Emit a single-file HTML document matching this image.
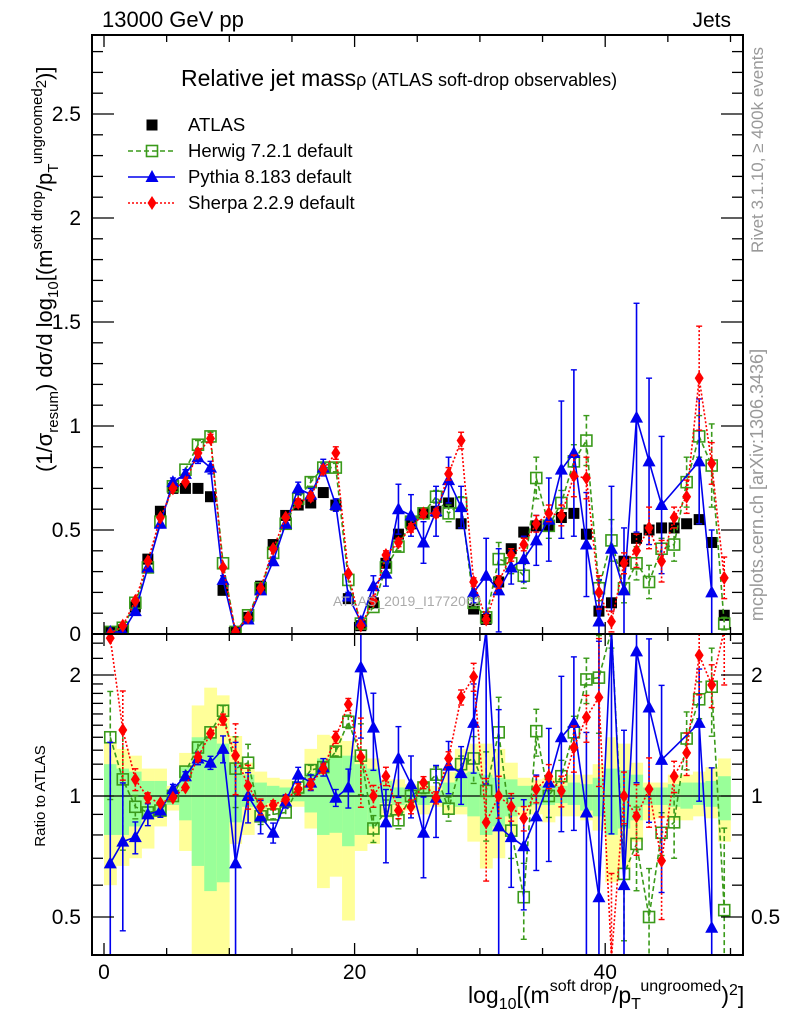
<!DOCTYPE html>
<html><head><meta charset="utf-8"><style>
html,body{margin:0;padding:0;background:#fff;width:786px;height:1024px;overflow:hidden;}
svg{display:block;font-family:"Liberation Sans",sans-serif;}
</style></head><body>
<svg id="chart" xmlns="http://www.w3.org/2000/svg" width="786" height="1024" viewBox="0 0 786 1024" overflow="hidden">
<defs>
<clipPath id="clipMain"><rect x="92" y="35" width="651" height="599"/></clipPath>
<clipPath id="clipRatio"><rect x="92" y="634" width="651" height="321"/></clipPath>
</defs>
<g id="bands" clip-path="url(#clipRatio)"></g>
<g id="ratioSeries" clip-path="url(#clipRatio)"></g>
<g id="mainSeries" clip-path="url(#clipMain)"></g>
<g id="axes"></g>
<text x="102" y="27" font-size="22">13000 GeV pp</text>
<text x="731" y="27" font-size="21" text-anchor="end">Jets</text>
<text x="181" y="86" font-size="23">Relative jet mass<tspan font-size="18">ρ (ATLAS soft-drop observables)</tspan></text>
<text x="333" y="606" font-size="14" fill="#aaa">ATLAS_2019_I1772062</text>
<text transform="translate(763,150) rotate(-90)" font-size="17" fill="#999" text-anchor="middle">Rivet 3.1.10, ≥ 400k events</text>
<text transform="translate(763,485) rotate(-90)" font-size="18" fill="#999" text-anchor="middle">mcplots.cern.ch [arXiv:1306.3436]</text>
<text transform="translate(52,472) rotate(-90)" font-size="22">(1/σ<tspan font-size="15" dy="6">resum</tspan><tspan dy="-6">) dσ/d log</tspan><tspan font-size="15" dy="6">10</tspan><tspan dy="-6">[(m</tspan><tspan font-size="15" dy="-10">soft drop</tspan><tspan dy="10">/p</tspan><tspan font-size="15" dy="6">T</tspan><tspan font-size="15" dy="-16">ungroomed</tspan><tspan font-size="15" dy="4">2</tspan><tspan dy="6">)]</tspan></text>
<text transform="translate(45,796) rotate(-90)" font-size="15" text-anchor="middle">Ratio to ATLAS</text>
<text x="468" y="1003" font-size="23">log<tspan font-size="16" dy="6">10</tspan><tspan dy="-6">[(m</tspan><tspan font-size="16" dy="-12">soft drop</tspan><tspan dy="12">/p</tspan><tspan font-size="16" dy="6">T</tspan><tspan font-size="16" dy="-18">ungroomed</tspan><tspan dy="12">)</tspan><tspan font-size="16" dy="-8">2</tspan><tspan dy="8">]</tspan></text>
<g id="legend"></g>
</svg>
<script>
const bins = Array.from({length:50},(_,i)=>i+0.5);
const atlas = [0.01,0.02,0.13,0.36,0.59,0.70,0.70,0.70,0.66,0.21,0.01,0.08,0.23,0.43,0.57,0.62,0.63,0.68,0.62,0.17,0.04,0.15,0.34,0.48,0.53,0.58,0.59,0.63,0.53,0.12,0.07,0.25,0.41,0.49,0.52,0.52,0.56,0.58,0.48,0.11,0.15,0.35,0.46,0.50,0.51,0.51,0.53,0.55,0.44,0.09];
const herwig = [0.01,0.03,0.15,0.32,0.54,0.71,0.79,0.91,0.95,0.34,0.01,0.09,0.22,0.39,0.53,0.65,0.73,0.80,0.80,0.26,0.05,0.13,0.32,0.42,0.54,0.58,0.66,0.58,0.63,0.15,0.08,0.36,0.34,0.28,0.75,0.52,0.63,0.83,0.93,0.22,0.45,0.22,0.34,0.25,0.41,0.43,0.73,0.95,0.81,0.05];
const pythia = [0.01,0.01,0.11,0.32,0.53,0.73,0.77,0.85,0.80,0.26,0.01,0.07,0.21,0.35,0.53,0.70,0.67,0.80,0.62,0.18,0.06,0.23,0.29,0.60,0.57,0.44,0.59,0.74,0.61,0.20,0.28,0.21,0.32,0.36,0.45,0.55,0.79,0.87,0.43,0.06,0.41,0.21,1.04,0.83,0.62,null,null,0.83,0.20,null];
const sherpa = [0.00,0.04,0.16,0.35,0.56,0.70,0.73,0.87,0.94,0.32,0.01,0.08,0.22,0.41,0.56,0.63,0.66,0.79,0.87,0.29,0.04,0.16,0.38,0.44,0.51,0.58,0.58,0.77,0.93,0.25,0.07,0.25,0.38,0.43,0.53,0.58,0.57,0.76,0.75,0.20,0.06,0.34,0.40,0.51,0.35,0.56,0.66,1.23,0.82,0.27];
const herwigErr = [0.003,0.01,0.01,0.01,0.01,0.01,0.01,0.02,0.02,0.01,0.002,0.01,0.01,0.01,0.01,0.02,0.02,0.02,0.02,0.01,0.01,0.01,0.02,0.02,0.02,0.02,0.03,0.04,0.03,0.02,0.02,0.08,0.05,0.06,0.10,0.06,0.06,0.08,0.12,0.06,0.10,0.07,0.08,0.08,0.05,0.08,0.12,0.10,0.20,0.03];
const pythiaErr = [0.01,0.004,0.01,0.02,0.02,0.02,0.02,0.03,0.03,0.02,0.01,0.01,0.02,0.02,0.02,0.03,0.03,0.04,0.03,0.02,0.02,0.05,0.06,0.12,0.10,0.10,0.12,0.11,0.10,0.05,0.18,0.20,0.08,0.11,0.12,0.20,0.33,0.40,0.25,0.20,0.30,0.30,0.55,0.40,0.33,null,null,0.30,0.30,null];
const sherpaErr = [0.002,0.01,0.01,0.01,0.01,0.01,0.01,0.02,0.02,0.01,0.002,0.01,0.01,0.01,0.01,0.02,0.02,0.02,0.03,0.01,0.01,0.01,0.02,0.02,0.02,0.02,0.02,0.03,0.04,0.02,0.02,0.03,0.03,0.03,0.04,0.04,0.05,0.10,0.10,0.08,0.05,0.05,0.08,0.10,0.10,0.05,0.08,0.25,0.10,0.10];
const herwigRatio = [1.40,1.10,0.94,0.91,0.92,1.00,1.15,1.32,1.44,1.63,1.17,1.21,0.89,0.90,0.91,1.05,1.16,1.18,1.29,1.53,1.26,0.83,0.92,0.87,1.00,1.05,1.13,0.93,1.20,1.24,1.03,1.44,0.82,0.56,1.45,1.00,1.12,1.44,1.95,1.97,3.00,0.64,0.76,0.50,0.81,0.86,1.39,1.74,1.87,0.52];
const pythiaRatio = [0.68,0.77,0.79,0.90,0.92,1.04,1.12,1.24,1.21,1.31,0.68,1.00,0.89,0.81,0.97,1.13,1.08,1.18,0.99,1.05,2.09,1.48,0.86,1.24,1.07,0.81,0.99,1.19,1.14,1.52,3.00,0.84,0.79,0.75,0.89,1.08,1.40,1.52,0.91,0.56,3.00,0.60,2.29,1.66,1.23,null,null,1.52,0.47,null];
const sherpaRatio = [2.47,1.46,1.10,0.99,0.96,0.99,1.05,1.25,1.43,1.55,1.26,1.06,0.94,0.95,0.98,1.04,1.07,1.17,1.40,1.69,1.25,1.00,1.12,0.92,0.94,1.08,0.99,1.24,1.76,1.98,0.86,1.00,0.94,0.88,1.04,1.12,1.03,1.32,1.57,1.76,0.35,1.00,0.89,1.04,0.69,1.12,1.28,2.24,1.89,3.00];
const bandYellowHi = [1.35,1.31,1.26,1.17,1.17,1.06,1.28,1.68,1.86,1.78,1.41,1.21,1.15,1.11,1.10,1.06,1.31,1.42,1.41,1.37,1.27,1.24,1.10,1.10,1.07,1.09,1.06,1.15,1.31,1.35,1.35,1.31,1.21,1.11,1.10,1.11,1.11,1.13,1.13,1.20,1.40,1.35,1.21,1.08,1.08,1.13,1.13,1.15,1.18,1.24];
const bandYellowLo = [0.60,0.67,0.70,0.74,0.84,0.92,0.73,0.35,0.35,0.35,0.76,0.80,0.89,0.92,0.94,0.94,0.83,0.59,0.63,0.49,0.73,0.76,0.88,0.89,0.92,0.90,0.94,0.90,0.90,0.77,0.66,0.70,0.80,0.89,0.90,0.86,0.89,0.89,0.87,0.82,0.61,0.66,0.77,0.87,0.88,0.87,0.87,0.89,0.88,0.77];
const bandGreenHi = [1.20,1.17,1.15,1.09,1.09,1.04,1.18,1.40,1.39,1.35,1.20,1.13,1.08,1.06,1.05,1.03,1.14,1.24,1.26,1.26,1.20,1.17,1.09,1.05,1.04,1.05,1.03,1.08,1.14,1.15,1.13,1.11,1.10,1.06,1.06,1.06,1.06,1.08,1.07,1.11,1.17,1.16,1.13,1.05,1.05,1.07,1.08,1.08,1.09,1.12];
const bandGreenLo = [0.80,0.80,0.84,0.88,0.89,0.95,0.87,0.67,0.58,0.61,0.86,0.94,0.93,0.96,0.97,0.97,0.91,0.80,0.81,0.75,0.80,0.84,0.96,0.95,0.96,0.95,0.97,0.95,0.94,0.89,0.80,0.84,0.89,0.94,0.95,0.95,0.96,0.95,0.92,0.89,0.80,0.83,0.87,0.95,0.95,0.94,0.93,0.95,0.94,0.87];
const mainTicks = [0,0.5,1,1.5,2,2.5];
const mainTickLabels = ["0","0.5","1","1.5","2","2.5"];
const ratioTicks = [0.5,1,2];
const ratioTickLabels = ["0.5","1","2"];
const xTicks = [0,20,40];
const xTickLabels = ["0","20","40"];

const NS="http://www.w3.org/2000/svg";
const X0=92,X1=743,YT=35,YM=634,YB=955;
const xv=v=>104+v*12.53;
const ym=v=>634-v*208;
const yr=r=>796-121*Math.log2(r);
const clampR=y=>Math.max(630,Math.min(958,y));
function mk(tag,parent,attrs){const e=document.createElementNS(NS,tag);for(const k in attrs)e.setAttribute(k,attrs[k]);parent.appendChild(e);return e;}

const gb=document.getElementById('bands');
bins.forEach((b,i)=>{
  const xa=xv(b-0.5),xb=xv(b+0.5);
  const y1=clampR(yr(bandYellowHi[i])),y2=clampR(yr(bandYellowLo[i]));
  let r=mk('rect',gb,{x:xa,y:y1,width:xb-xa+0.3,height:y2-y1,fill:'#ffff99'});
  
  
  r=mk('rect',gb,{x:xa,y:yr(bandGreenHi[i]),width:xb-xa+0.3,height:yr(bandGreenLo[i])-yr(bandGreenHi[i]),fill:'#99ff99'});
  
  
});
let l1=mk('line',gb,{x1:X0,x2:X1,y1:yr(1),y2:yr(1),stroke:'#000','stroke-width':1.3});



function marker(g,type,x,y,color){
  let e;
  if(type==='sq') e=mk('rect',g,{x:x-5.5,y:y-5.5,width:11,height:11,fill:'#000'});
  else if(type==='osq') e=mk('rect',g,{x:x-5.5,y:y-5.5,width:11,height:11,fill:'none',stroke:color,'stroke-width':1.6});
  else if(type==='tri') e=mk('polygon',g,{points:`${x},${y-7} ${x-6.5},${y+5} ${x+6.5},${y+5}`,fill:color});
  else e=mk('polygon',g,{points:`${x},${y-7} ${x+4.5},${y} ${x},${y+7} ${x-4.5},${y}`,fill:color});
  return e;
}
const specs=[
 {name:'herwig',vals:herwig,err:herwigErr,ratio:herwigRatio,color:'#3a9a1a',dash:'5,3',type:'osq'},
 {name:'pythia',vals:pythia,err:pythiaErr,ratio:pythiaRatio,color:'#0000ee',dash:'',type:'tri'},
 {name:'sherpa',vals:sherpa,err:sherpaErr,ratio:sherpaRatio,color:'#ff0000',dash:'2,2',type:'dia'}
];
const gm=document.getElementById('mainSeries');
const gr=document.getElementById('ratioSeries');
specs.forEach(s=>{
  const pm=[],pr=[];
  const g1=mk('g',gm,{});
  const g2=mk('g',gr,{});
  bins.forEach((b,i)=>{
    const v=s.vals[i];
    if(v!==null){
      const x=xv(b),y=ym(v),e=s.err[i]*208;
      pm.push(x+','+y);
      let el=mk('line',g1,{x1:x,x2:x,y1:y-e,y2:Math.min(y+e,636),stroke:s.color,'stroke-width':1.6,'stroke-dasharray':s.dash});
      
      
      if(e>4){mk('line',g1,{x1:x-3,x2:x+3,y1:y-e,y2:y-e,stroke:s.color,'stroke-width':1.4});mk('line',g1,{x1:x-3,x2:x+3,y1:y+e,y2:y+e,stroke:s.color,'stroke-width':1.4});}
    }
    const r=s.ratio[i];
    if(r!==null){
      const x=xv(b),y=yr(r);
      pr.push(x+','+clampR(y));
      const rel=(v&&s.err[i])?s.err[i]/v:0;
      const ya=clampR(yr(r*(1+rel))),yb=clampR(rel<1?yr(r*(1-rel)):958);
      let el=mk('line',g2,{x1:x,x2:x,y1:ya,y2:yb,stroke:s.color,'stroke-width':1.6,'stroke-dasharray':s.dash});
      
      
      if(Math.abs(yb-ya)>8){mk('line',g2,{x1:x-3,x2:x+3,y1:ya,y2:ya,stroke:s.color,'stroke-width':1.4});mk('line',g2,{x1:x-3,x2:x+3,y1:yb,y2:yb,stroke:s.color,'stroke-width':1.4});}
    }
  });
  let pl=mk('polyline',g1,{points:pm.join(' '),fill:'none',stroke:s.color,'stroke-width':1.6,'stroke-dasharray':s.dash});
  
  
  pl=mk('polyline',g2,{points:pr.join(' '),fill:'none',stroke:s.color,'stroke-width':1.6,'stroke-dasharray':s.dash});
  
  
  bins.forEach((b,i)=>{
    if(s.vals[i]!==null){const m=marker(g1,s.type,xv(b),ym(s.vals[i]),s.color);
      
      }
    if(s.ratio[i]!==null){const yy=yr(s.ratio[i]);if(yy>620&&yy<965){const m=marker(g2,s.type,xv(b),yy,s.color);
      
      }}
  });
});
const ga=document.createElementNS(NS,'g');gm.insertBefore(ga,gm.firstChild);


bins.forEach((b,i)=>{const m=marker(ga,'sq',xv(b),ym(atlas[i]),'#000');
  
  });

const gx=document.getElementById('axes');
let fr=mk('rect',gx,{x:X0,y:YT,width:X1-X0,height:YB-YT,fill:'none',stroke:'#000','stroke-width':2});


mk('line',gx,{x1:X0,x2:X1,y1:YM,y2:YM,stroke:'#000','stroke-width':2});
for(let v=0;v<=2.85;v+=0.1){
  const y=ym(v),maj=Math.abs(v*2-Math.round(v*2))<1e-6,len=maj?22:11;
  mk('line',gx,{x1:X0,x2:X0+len,y1:y,y2:y,stroke:'#000','stroke-width':1.3});
  mk('line',gx,{x1:X1,x2:X1-len,y1:y,y2:y,stroke:'#000','stroke-width':1.3});
}
mainTicks.forEach((v,i)=>{const t=mk('text',gx,{x:81,y:ym(v)+7,'font-size':21,'text-anchor':'end'});t.textContent=mainTickLabels[i];
  
  });
const rt=[0.5,0.6,0.7,0.8,0.9,1,1.1,1.2,1.3,1.4,1.5,1.6,1.7,1.8,1.9,2,2.2,2.4];
rt.forEach(r=>{const y=yr(r),maj=ratioTicks.includes(r),len=maj?22:11;
  mk('line',gx,{x1:X0,x2:X0+len,y1:y,y2:y,stroke:'#000','stroke-width':1.3});
  mk('line',gx,{x1:X1,x2:X1-len,y1:y,y2:y,stroke:'#000','stroke-width':1.3});});
ratioTicks.forEach((r,i)=>{
  let t=mk('text',gx,{x:81,y:yr(r)+7,'font-size':21,'text-anchor':'end'});t.textContent=ratioTickLabels[i];
  
  
  t=mk('text',gx,{x:751,y:yr(r)+7,'font-size':21});t.textContent=ratioTickLabels[i];
  
  
});
for(let v=0;v<=50;v+=5){const x=xv(v),maj=xTicks.includes(v),len=maj?12:7;
  [YT,YM].forEach(y0=>mk('line',gx,{x1:x,x2:x,y1:y0,y2:y0+len,stroke:'#000','stroke-width':1.3}));
  [YM,YB].forEach(y0=>mk('line',gx,{x1:x,x2:x,y1:y0,y2:y0-len,stroke:'#000','stroke-width':1.3}));
}
xTicks.forEach((v,i)=>{const t=mk('text',gx,{x:xv(v),y:979,'font-size':21,'text-anchor':'middle'});t.textContent=xTickLabels[i];
  
  });

const gl=document.getElementById('legend');
const leg=[['ATLAS','sq','#000',''],['Herwig 7.2.1 default','osq','#3a9a1a','5,3'],['Pythia 8.183 default','tri','#0000ee',''],['Sherpa 2.2.9 default','dia','#ff0000','2,2']];
leg.forEach((L,i)=>{const y=125+i*26;
  const g=mk('g',gl,{});
  
  
  if(i>0)mk('line',g,{x1:128,x2:175,y1:y,y2:y,stroke:L[2],'stroke-width':1.4,'stroke-dasharray':L[3]});
  marker(g,L[1],152,y,L[2]);
  const t=mk('text',g,{x:188,y:y+6,'font-size':18.5});t.textContent=L[0];});
</script>
</body></html>
